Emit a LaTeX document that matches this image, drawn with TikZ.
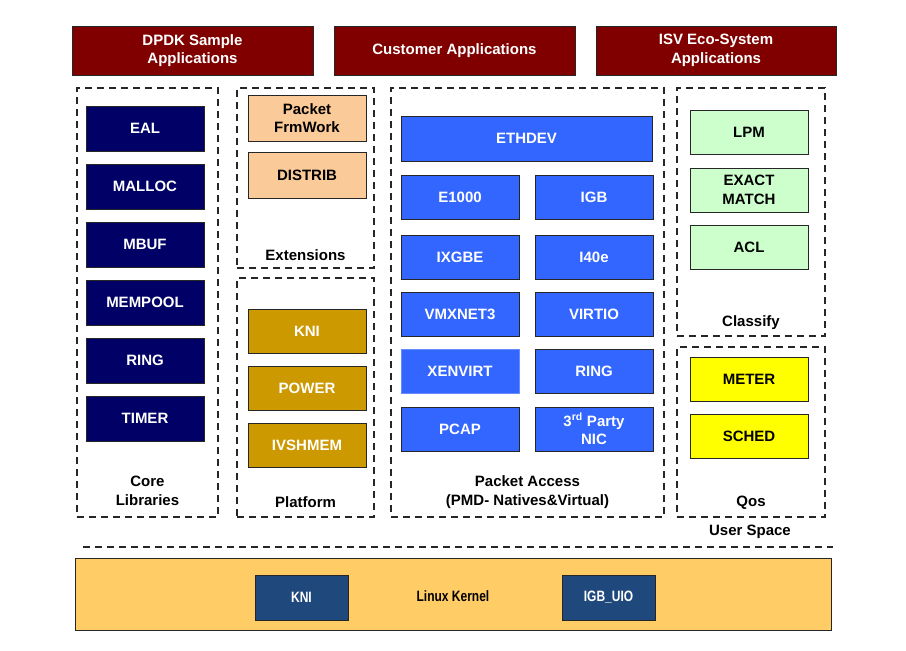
\documentclass[tikz,border=0pt]{standalone}
\usepackage{fontspec}
\setmainfont{Liberation Sans}
\newfontfamily\narrowfont[FakeStretch=0.8]{Liberation Sans}
\usetikzlibrary{positioning}
\definecolor{appred}{RGB}{128,0,0}
\definecolor{corenavy}{RGB}{0,0,102}
\definecolor{extpeach}{RGB}{250,202,152}
\definecolor{platgold}{RGB}{204,153,0}
\definecolor{pablue}{RGB}{51,102,255}
\definecolor{clsgreen}{RGB}{204,255,204}
\definecolor{qosyellow}{RGB}{255,255,0}
\definecolor{kernorange}{RGB}{255,204,102}
\definecolor{kernblue}{RGB}{31,73,125}
\newcommand\diagfont{\fontsize{15}{18.5}\selectfont\bfseries}
\tikzset{
    block/.style={draw=black!85, line width=1pt, inner sep=0pt, align=center,
        minimum width=118pt, minimum height=45pt, font=\diagfont},
    app/.style={block, fill=appred, text=white, minimum height=49pt},
    corebox/.style={block, fill=corenavy, text=white},
    extbox/.style={block, fill=extpeach, text=black, minimum height=46pt},
    platbox/.style={block, fill=platgold, text=white, minimum height=44pt},
    pabox/.style={block, fill=pablue, text=white, minimum height=44pt},
    clsbox/.style={block, fill=clsgreen, text=black, minimum height=44pt},
    qosbox/.style={block, fill=qosyellow, text=black, minimum height=44pt},
    kernbox/.style={block, fill=kernblue, text=white, minimum width=93pt, font=\diagfont\narrowfont},
    group/.style={draw=black!85, line width=1.3pt, dash pattern=on 7pt off 5pt, inner sep=0pt},
    grouplabel/.style={font=\diagfont, align=center, inner sep=1pt},
}
\begin{document}
\begin{tikzpicture}[x=1pt, y=-1pt]
    \useasboundingbox (0,0) rectangle (906,651);

    % applications on top
    \node[app, minimum width=241pt] (dpdk) at (192.5,50.5) {DPDK Sample\\Applications};
    \node[app, minimum width=241pt] (cust) at (454.5,50.5) {Customer Applications};
    \node[app, minimum width=240pt] (isv) at (716,50.5) {ISV Eco-System\\Applications};

    % dashed groups
    \node[group, minimum width=141pt, minimum height=429pt] (core) at (147.5,302.5) {};
    \node[group, minimum width=137pt, minimum height=180pt] (ext) at (305.5,178) {};
    \node[group, minimum width=137pt, minimum height=239pt] (plat) at (305.5,397.5) {};
    \node[group, minimum width=273pt, minimum height=429pt] (pa) at (527.5,302.5) {};
    \node[group, minimum width=148pt, minimum height=248pt] (cls) at (751,212) {};
    \node[group, minimum width=148pt, minimum height=170pt] (qos) at (751,432) {};

    % core libraries
    \node[corebox] (eal) at (145,128.5) {EAL};
    \node[corebox, below=12pt of eal] (malloc) {MALLOC};
    \node[corebox, below=12pt of malloc] (mbuf) {MBUF};
    \node[corebox, below=12pt of mbuf] (mempool) {MEMPOOL};
    \node[corebox, below=12pt of mempool] (ring) {RING};
    \node[corebox, below=12pt of ring] (timer) {TIMER};
    \node[grouplabel, above=11pt of core.south] (corelbl) {Core\\Libraries};

    % extensions
    \node[extbox] (pktfrm) at (307,118) {Packet\\FrmWork};
    \node[extbox, below=10pt of pktfrm] (distrib) {DISTRIB};
    \node[grouplabel, above=7pt of ext.south] (extlbl) {Extensions};

    % platform
    \node[platbox] (kni) at (307,331) {KNI};
    \node[platbox, below=12pt of kni] (power) {POWER};
    \node[platbox, below=12pt of power] (ivshmem) {IVSHMEM};
    \node[grouplabel, above=9pt of plat.south] (platlbl) {Platform};

    % packet access
    \node[pabox, minimum width=251pt, minimum height=45pt] (ethdev) at (526.5,138.5) {ETHDEV};
    \node[pabox] (e1000) at (460,197) {E1000};
    \node[pabox] (igb) at (594,197) {IGB};
    \node[pabox, below=15pt of e1000] (ixgbe) {IXGBE};
    \node[pabox, below=15pt of igb] (i40e) {I40e};
    \node[pabox, below=12pt of ixgbe] (vmxnet) {VMXNET3};
    \node[pabox, below=12pt of i40e] (virtio) {VIRTIO};
    \node[pabox, draw=pablue!75, below=12pt of vmxnet] (xenvirt) {XENVIRT};
    \node[pabox, below=12pt of virtio] (pring) {RING};
    \node[pabox, below=13pt of xenvirt] (pcap) {PCAP};
    \node[pabox, below=13pt of pring] (thirdnic) {3\textsuperscript{rd} Party\\NIC};
    \node[grouplabel, above=8pt of pa.south] (palbl) {Packet Access\\(PMD- Natives\&Virtual)};

    % classify
    \node[clsbox] (lpm) at (749,132) {LPM};
    \node[clsbox, below=13pt of lpm] (exact) {EXACT\\MATCH};
    \node[clsbox, below=12pt of exact] (acl) {ACL};
    \node[grouplabel, above=6pt of cls.south] (clslbl) {Classify};

    % qos
    \node[qosbox] (meter) at (749,379) {METER};
    \node[qosbox, below=12pt of meter] (sched) {SCHED};
    \node[grouplabel, above=7pt of qos.south] (qoslbl) {Qos};

    % user space / kernel split
    \node[grouplabel] (userlbl) at (750,532) {User Space};
    \coordinate (split1) at (83,547);
    \coordinate (split2) at (833,547);
    \draw[group] (split1) -- (split2);

    % linux kernel
    \node[block, fill=kernorange, minimum width=756pt, minimum height=72pt] (kernel) at (453,594) {};
    \node[kernbox] (kkni) at (301.5,597.5) {KNI};
    \node[kernbox] (igbuio) at (608.5,597.5) {IGB\_UIO};
    \node[font=\diagfont\narrowfont] (kernlbl) at (453,596) {Linux Kernel};
\end{tikzpicture}
\end{document}
